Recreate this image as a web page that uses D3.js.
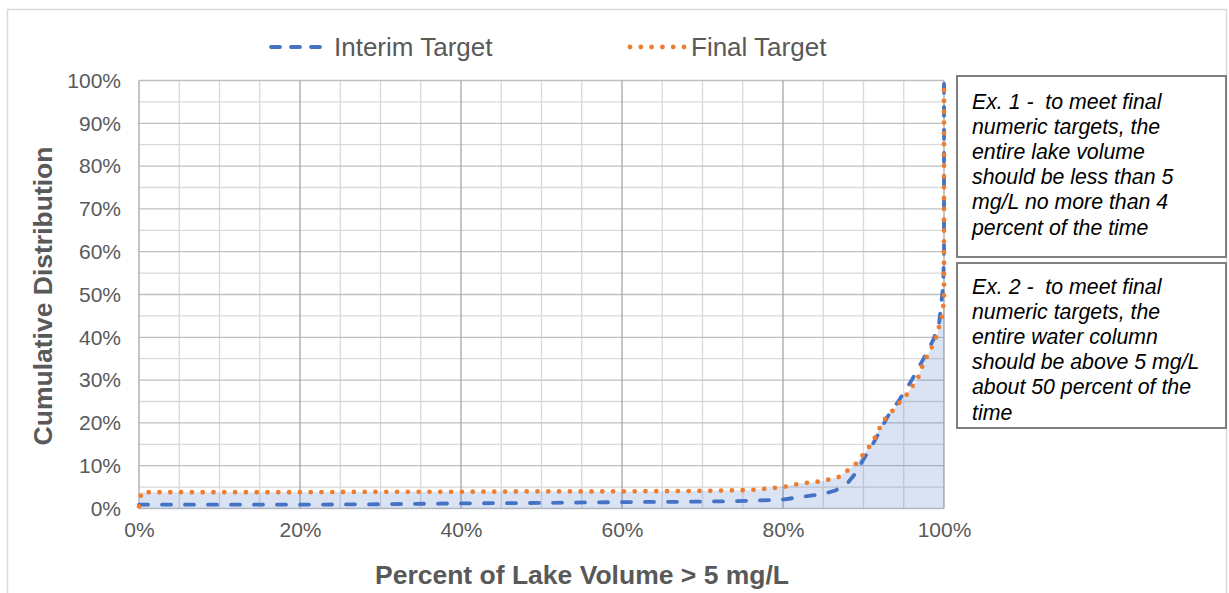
<!DOCTYPE html>
<html>
<head>
<meta charset="utf-8">
<script src="https://cdn.jsdelivr.net/npm/d3@7"></script>
<style>
  html, body { margin: 0; padding: 0; background: #fff; }
  svg { display: block; }
  text { font-family: "Liberation Sans", Arial, sans-serif; }
</style>
</head>
<body>
<svg id="chart" width="1229" height="593"></svg>
<script>
// ---------------- data ----------------
const seriesNames = ["Interim Target", "Final Target"];

// Percent of lake volume > 5 mg/L (x) vs cumulative distribution (y), in %
const interimX = [0, 10, 20, 30, 40, 50, 60, 70, 76, 80, 83, 85, 86.5, 88, 89, 90, 91, 92, 93, 94.5, 96, 97.4, 98.7, 99.4, 99.9, 100, 100];
const interimY = [0.9, 0.9, 0.9, 1.0, 1.2, 1.3, 1.5, 1.6, 1.8, 2.1, 2.9, 3.4, 4.2, 5.9, 8.2, 11.5, 14.5, 18, 21.5, 25.5, 30, 34.8, 39.5, 43.4, 52, 60, 100];

const finalX = [0, 0.3, 10, 20, 30, 40, 50, 60, 70, 76, 80, 82, 85, 87, 89, 89.7, 90.4, 91.1, 91.7, 92.2, 92.9, 93.7, 94.5, 95.3, 96, 96.7, 97.1, 97.6, 98.2, 98.7, 99.2, 99.5, 99.8, 100, 100];
const finalY = [0.5, 3.8, 3.8, 3.8, 3.9, 3.9, 4.0, 4.0, 4.1, 4.3, 5.0, 5.8, 6.4, 7.4, 10.3, 12, 13.6, 15.5, 17.5, 19.7, 21.5, 23, 24.8, 26.4, 28.4, 30.1, 32.3, 34.6, 36.6, 38.5, 40.8, 43.6, 45, 49.5, 100];

const xTickValues = [0, 20, 40, 60, 80, 100];
const xTickLabels = ["0%", "20%", "40%", "60%", "80%", "100%"];
const yTickValues = [0, 10, 20, 30, 40, 50, 60, 70, 80, 90, 100];
const yTickLabels = ["0%", "10%", "20%", "30%", "40%", "50%", "60%", "70%", "80%", "90%", "100%"];

const xTitle = "Percent of Lake Volume > 5 mg/L";
const yTitle = "Cumulative Distribution";

const note1 = ["Ex. 1 -  to meet final", "numeric targets, the", "entire lake volume", "should be less than 5", "mg/L no more than 4", "percent of the time"];
const note2 = ["Ex. 2 -  to meet final", "numeric targets, the", "entire water column", "should be above 5 mg/L", "about 50 percent of the", "time"];

// ---------------- drawing ----------------
const svg = d3.select("#chart");

// outer chart border
svg.append("rect").attr("x", 7.5).attr("y", 9.5).attr("width", 1219).attr("height", 620)
  .attr("fill", "none").attr("stroke", "#d9d9d9").attr("stroke-width", 1.5);

const x = d3.scaleLinear().domain([0, 100]).range([139, 944]);
const y = d3.scaleLinear().domain([0, 100]).range([508.5, 80.5]);

const grid = svg.append("g");
// minor gridlines every 5%
const minor = d3.range(0, 101, 5);
grid.selectAll(".vminor").data(minor.filter(v => v % 20 !== 0)).join("line")
  .attr("x1", d => x(d)).attr("x2", d => x(d)).attr("y1", y(0)).attr("y2", y(100))
  .attr("stroke", "#d9d9d9").attr("stroke-width", 1.3);
grid.selectAll(".hminor").data(minor.filter(v => v % 10 !== 0)).join("line")
  .attr("x1", x(0)).attr("x2", x(100)).attr("y1", d => y(d)).attr("y2", d => y(d))
  .attr("stroke", "#d9d9d9").attr("stroke-width", 1.3);
// major gridlines
grid.selectAll(".hmajor").data(yTickValues).join("line")
  .attr("x1", x(0)).attr("x2", x(100)).attr("y1", d => y(d)).attr("y2", d => y(d))
  .attr("stroke", "#bfbfbf").attr("stroke-width", 1.3);
grid.selectAll(".vmajor").data(xTickValues).join("line")
  .attr("x1", d => x(d)).attr("x2", d => x(d)).attr("y1", y(0)).attr("y2", y(100))
  .attr("stroke", "#a6a6a6").attr("stroke-width", 1.3);

// series
const interim = interimX.map((v, i) => ({ x: v, y: interimY[i] }));
const final = finalX.map((v, i) => ({ x: v, y: finalY[i] }));

// shaded area under final target
const area = d3.area().x(d => x(d.x)).y0(y(0)).y1(d => y(d.y)).curve(d3.curveLinear);
svg.append("path").datum(final).attr("d", area)
  .attr("fill", "#4472c4").attr("fill-opacity", 0.2);

const line = d3.line().x(d => x(d.x)).y(d => y(d.y)).curve(d3.curveLinear);
svg.append("path").datum(interim).attr("d", line)
  .attr("fill", "none").attr("stroke", "#4472c4").attr("stroke-width", 3.8)
  .attr("stroke-dasharray", "9,14").attr("stroke-linecap", "round").attr("stroke-linejoin", "round");
svg.append("path").datum(final).attr("d", line)
  .attr("fill", "none").attr("stroke", "#ed7d31").attr("stroke-width", 4.8)
  .attr("stroke-dasharray", "0,10.8").attr("stroke-linecap", "round").attr("stroke-linejoin", "round");

// axes (labels only; lines drawn as gridlines)
const xAxis = d3.axisBottom(x).tickValues(xTickValues).tickFormat((d, i) => xTickLabels[i]).tickSize(0).tickPadding(14);
const gx = svg.append("g").attr("transform", `translate(0,${y(0)})`).call(xAxis);
gx.select(".domain").remove();
gx.selectAll("text").attr("font-size", 21).attr("fill", "#595959")
  .attr("font-family", "'Liberation Sans', Arial, sans-serif");

const yAxis = d3.axisLeft(y).tickValues(yTickValues).tickFormat((d, i) => yTickLabels[i]).tickSize(0).tickPadding(18);
const gy = svg.append("g").attr("transform", `translate(${x(0)},0)`).call(yAxis);
gy.select(".domain").remove();
gy.selectAll("text").attr("font-size", 21).attr("fill", "#595959")
  .attr("font-family", "'Liberation Sans', Arial, sans-serif");

// axis titles
svg.append("text").attr("x", 582).attr("y", 584).attr("text-anchor", "middle")
  .attr("font-size", 26.5).attr("font-weight", "bold").attr("fill", "#595959").text(xTitle);
svg.append("text").attr("transform", "translate(52,296) rotate(-90)").attr("text-anchor", "middle")
  .attr("font-size", 26.5).attr("font-weight", "bold").attr("fill", "#595959").text(yTitle);

// legend
const legend = svg.append("g");
const legendItems = [
  { name: seriesNames[0], x1: 271, x2: 328, color: "#4472c4", dash: "9,11", w: 3.8, tx: 334 },
  { name: seriesNames[1], x1: 630, x2: 686, color: "#ed7d31", dash: "0,10.8", w: 4.8, tx: 691 }
];
legendItems.forEach(it => {
  legend.append("line").attr("x1", it.x1).attr("x2", it.x2).attr("y1", 47).attr("y2", 47)
    .attr("stroke", it.color).attr("stroke-width", it.w).attr("stroke-dasharray", it.dash)
    .attr("stroke-linecap", "round");
  legend.append("text").attr("x", it.tx).attr("y", 56).attr("font-size", 26)
    .attr("fill", "#595959").text(it.name);
});

// annotation boxes
function note(lines, top, height, firstY) {
  const g = svg.append("g");
  g.append("rect").attr("x", 957).attr("y", top).attr("width", 269).attr("height", height)
    .attr("fill", "#fff").attr("stroke", "#7f7f7f").attr("stroke-width", 2);
  g.selectAll("text").data(lines).join("text")
    .attr("x", 972).attr("y", (d, i) => firstY + i * 25.2)
    .attr("font-size", 21.3).attr("font-style", "italic").attr("fill", "#000")
    .attr("xml:space", "preserve").style("white-space", "pre")
    .text(d => d);
}
note(note1, 76, 181, 108.5);
note(note2, 263, 165, 293.5);
</script>
</body>
</html>
